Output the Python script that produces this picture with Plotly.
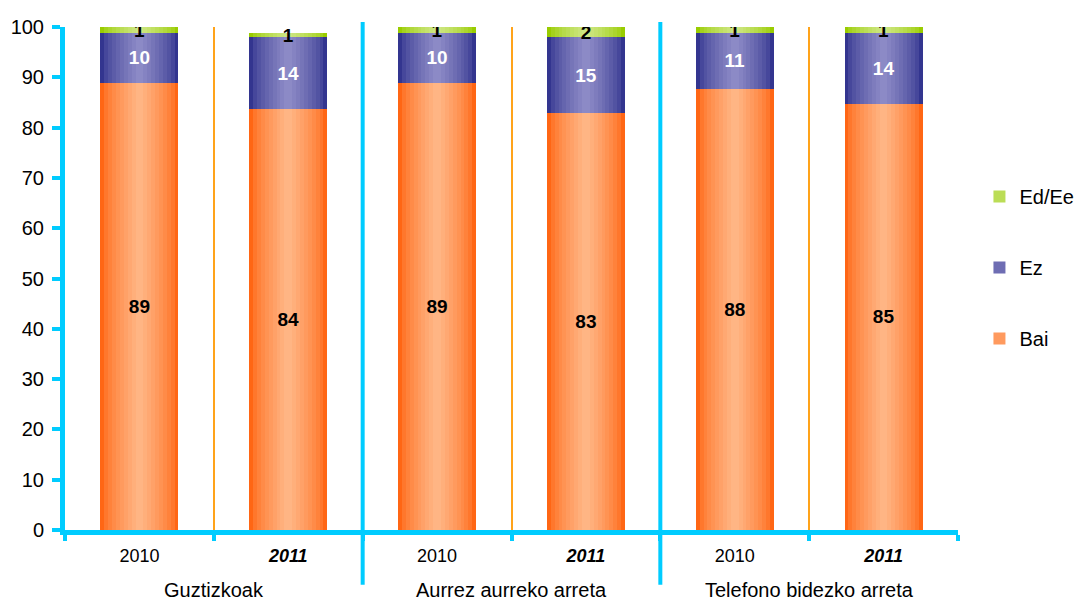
import plotly.graph_objects as go

years = ["2010", "2011", "2010", "2011", "2010", "2011"]
groups = ["Guztizkoak", "Aurrez aurreko arreta", "Telefono bidezko arreta"]
bai = [88.9, 83.7, 88.9, 82.9, 87.7, 84.7]
ez = [9.9, 14.3, 9.9, 15.1, 11.1, 14.1]
ed_ee = [1.2, 0.8, 1.2, 2.0, 1.2, 1.2]
bai_txt = ["89", "84", "89", "83", "88", "85"]
ez_txt = ["10", "14", "10", "15", "11", "14"]
ed_txt = ["1", "1", "1", "2", "1", "1"]

FONT = "Liberation Sans, Arial, sans-serif"
CYAN = "#00CCFF"
ORANGE_LINE = "#FFA31A"
BAR_W = 0.525
N_LAYERS = 10  # narrower, lighter bars on top of each other fake the cylinder shading


def mix(c1, c2, t):
    a = [int(c1[i:i + 2], 16) for i in (1, 3, 5)]
    b = [int(c2[i:i + 2], 16) for i in (1, 3, 5)]
    return "rgb(%d,%d,%d)" % tuple(round(a[j] + (b[j] - a[j]) * t) for j in range(3))


x = list(range(len(years)))
tick_text = [y if i % 2 == 0 else "<b><i>%s</i></b>" % y for i, y in enumerate(years)]

series = [
    ("Bai", bai, bai_txt, "#FF6614", "#FFB584", "black", 3),
    ("Ez", ez, ez_txt, "#33358F", "#8C8AC6", "white", 2),
    ("Ed/Ee", ed_ee, ed_txt, "#99CC00", "#CDE682", "black", 1),
]

fig = go.Figure()
for k in range(N_LAYERS):
    xa = "x" if k == 0 else "x%d" % (k + 1)
    ya = "y" if k == 0 else "y%d" % (k + 1)
    t = (k / (N_LAYERS - 1)) ** 0.7
    for name, vals, txt, edge, center, tcol, rank in series:
        top = k == N_LAYERS - 1
        fig.add_trace(go.Bar(
            name=name, x=x, y=vals, xaxis=xa, yaxis=ya,
            width=BAR_W * (1 - k / N_LAYERS),
            marker=dict(color=mix(edge, center, t), line=dict(width=0)),
            text=["<b>%s</b>" % s for s in txt] if top else None,
            textposition="inside", insidetextanchor="middle",
            textangle=0, constraintext="none",
            textfont=dict(family=FONT, size=19, color=tcol),
            legendgroup=name, legendrank=rank,
            showlegend=(k == N_LAYERS // 2), hoverinfo="skip",
        ))

# group separators (cyan) extending below the axis
for xs in [1.5, 3.5]:
    fig.add_shape(type="line", xref="x", yref="paper", x0=xs, x1=xs,
                  y0=-0.109, y1=1.01, line=dict(color=CYAN, width=4))

for gi, g in enumerate(groups):
    fig.add_annotation(x=gi * 2 + 0.5, y=-0.119, xref="x", yref="paper",
                       text=g, showarrow=False, yanchor="middle",
                       font=dict(family=FONT, size=20, color="black"))

fig.update_layout(
    width=1083, height=604,
    margin=dict(l=57, r=133, t=19, b=82),
    barmode="stack",
    plot_bgcolor="white", paper_bgcolor="white",
    font=dict(family=FONT, color="black"),
    legend=dict(xref="container", yref="container", x=0.897, y=0.72,
                xanchor="left", yanchor="top",
                traceorder="grouped", tracegroupgap=42,
                font=dict(family=FONT, size=20)),
    xaxis=dict(
        range=[-0.5, 5.5], tickvals=x, ticktext=tick_text, automargin=False,
        tickfont=dict(family=FONT, size=18, color="black"),
        ticks="", showgrid=False, showline=True, linecolor=CYAN,
        linewidth=5, zeroline=False, ticklabelstandoff=5,
        minor=dict(tickvals=[i - 0.5 for i in range(len(years) + 1)],
                   showgrid=True, gridcolor=ORANGE_LINE, gridwidth=1.5,
                   ticks="outside", ticklen=6, tickwidth=4, tickcolor=CYAN),
    ),
    yaxis=dict(
        range=[0, 100], dtick=10, showgrid=False, zeroline=False,
        showline=True, linecolor=CYAN, linewidth=5, automargin=False,
        ticks="outside", ticklen=8, tickwidth=4, tickcolor=CYAN,
        ticklabelstandoff=4,
        tickfont=dict(family=FONT, size=20, color="black"),
    ),
)
for k in range(1, N_LAYERS):
    fig.update_layout({
        "xaxis%d" % (k + 1): dict(overlaying="x", matches="x", visible=False),
        "yaxis%d" % (k + 1): dict(overlaying="y", matches="y", visible=False),
    })

fig.write_html("out.html")
